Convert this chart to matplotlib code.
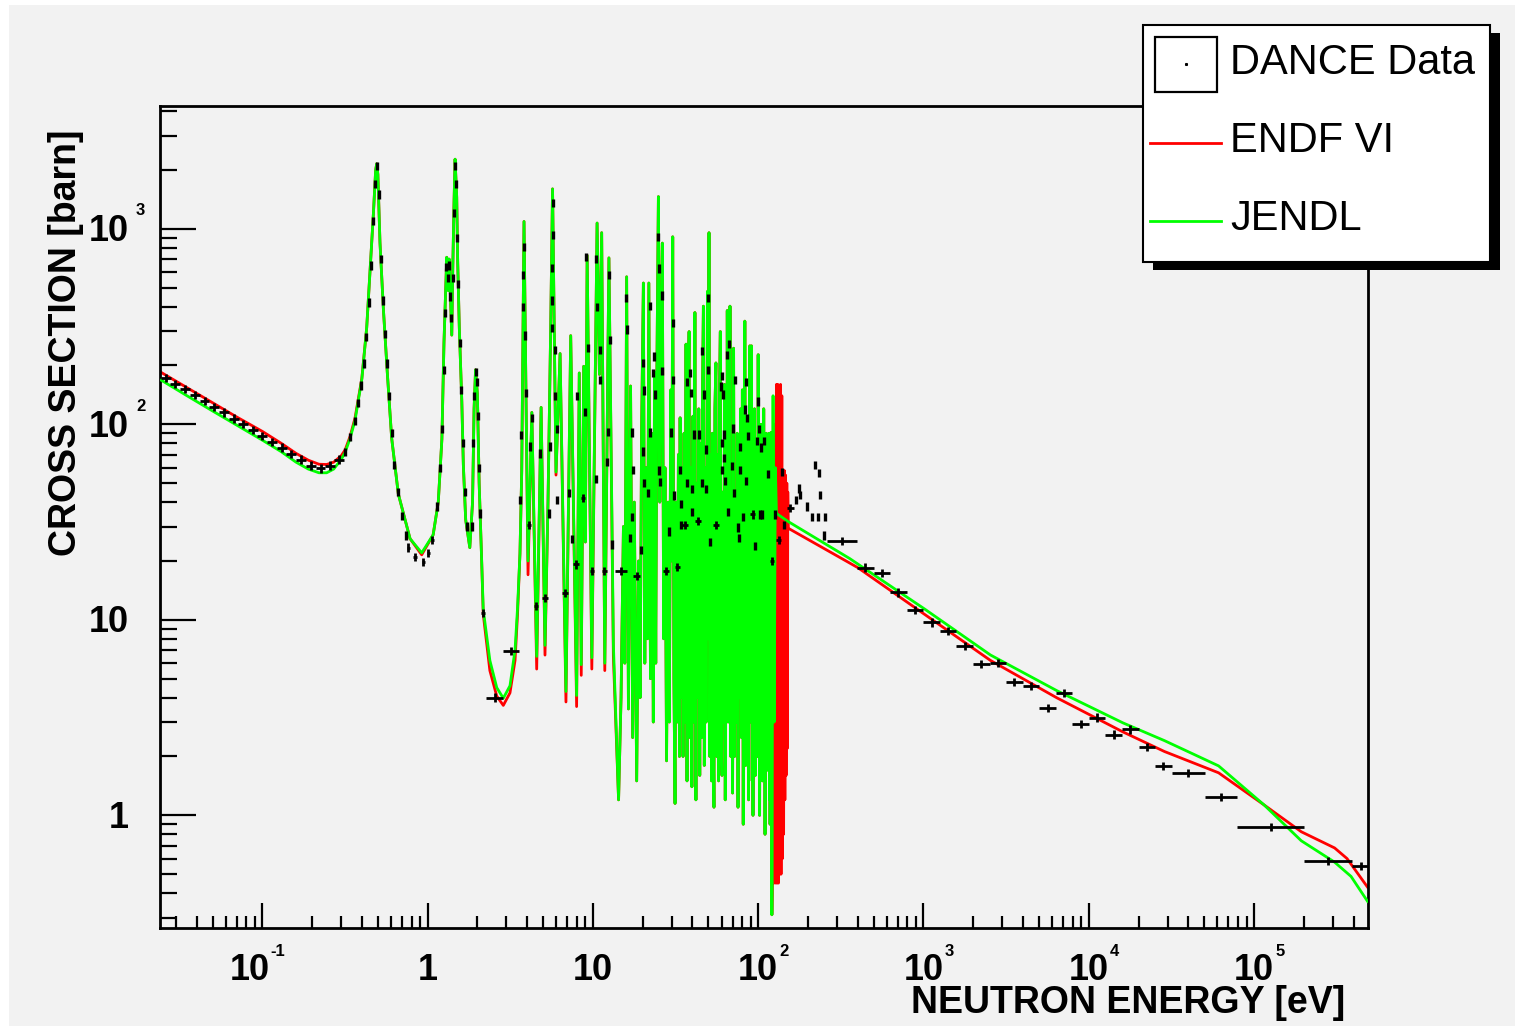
# -*- coding: utf-8 -*-
"""
Neutron capture cross section: DANCE data vs ENDF VI / JENDL evaluations
(ROOT-style log-log plot)
"""

import numpy as np
import matplotlib
matplotlib.use("Agg")
import matplotlib.pyplot as plt
import matplotlib.transforms as mtransforms
from matplotlib.patches import Rectangle
from matplotlib.ticker import LogLocator, NullFormatter

plt.rcParams["font.family"] = ["Liberation Sans", "DejaVu Sans"]

DPI = 100
PT = 72.0 / DPI          # points per pixel
BG = "#f2f2f2"

# ============================================================
# evaluated curves (energy in eV, cross section in barn)
# ============================================================
# thermal + first resonances, energies shared by both libraries
low_e = [0.0245, 0.035, 0.05, 0.07, 0.10, 0.13, 0.16, 0.19, 0.22, 0.245,
         0.27, 0.30, 0.317, 0.34, 0.364, 0.40, 0.428, 0.448, 0.47, 0.485,
         0.492, 0.50, 0.515, 0.54, 0.57, 0.606, 0.665, 0.783, 0.921, 1.08,
         1.16, 1.22, 1.256, 1.305, 1.335, 1.35, 1.40, 1.42, 1.445, 1.466,
         1.50, 1.52, 1.555, 1.61, 1.645, 1.70, 1.80, 1.87, 1.91, 1.95,
         2.00, 2.05, 2.12, 2.17, 2.38, 2.62, 2.87, 3.15, 3.38, 3.50,
         3.62, 3.71, 3.83, 3.94, 4.05, 4.27, 4.57, 4.86, 5.13, 5.35,
         5.55, 5.70, 5.85, 5.98, 6.33, 6.87, 7.34, 7.97, 8.27, 8.50,
         8.80, 9.00, 9.23, 9.85, 10.6, 10.95, 11.3, 11.8, 12.5, 13.3]
endf_low = [184, 154, 129, 109, 92, 80, 71, 65.5, 62.5, 62.3,
            64, 69, 74, 87, 108, 172, 312, 600, 1200, 2000,
            2150, 1900, 850, 389, 185, 85, 44, 26, 21.5, 27.2,
            40, 84, 262, 715, 483, 700, 286, 627, 1370, 2270,
            1450, 684, 312, 131, 62, 32.4, 23.4, 40, 120, 190,
            143, 50, 21, 10.7, 5.5, 4.07, 3.65, 4.23, 6.2, 10.7,
            21.8, 57.5, 1090, 133, 17, 115, 5.6, 122, 6.6, 40,
            300, 1600, 250, 55, 230, 3.8, 284, 3.6, 183, 5.2,
            198, 25, 731, 5.6, 1070, 180, 955, 5.5, 710, 6.5]
jendl_low = [168, 140, 117, 99, 83, 72.5, 64, 59, 56.5, 56.5,
             59, 66, 72, 85, 105, 170, 312, 600, 1200, 2000,
             2150, 1900, 850, 389, 185, 85, 44, 26, 22, 27.2,
             40, 84, 262, 715, 483, 700, 286, 627, 1370, 2270,
             1450, 684, 312, 131, 62, 32.4, 23.4, 40, 120, 190,
             143, 50, 21, 11.3, 6.2, 4.5, 3.97, 4.6, 7.0, 11.5,
             21.8, 57.5, 1090, 133, 20, 115, 6.5, 122, 7.4, 40,
             300, 1600, 250, 57, 230, 4.3, 284, 4.1, 183, 5.9,
             198, 25, 731, 6.4, 1070, 180, 955, 6.0, 710, 7.5]

# dense resonance region, drawn identically by both libraries
dense_e = [14.3, 14.8, 15.3, 15.6, 16.0, 16.4, 16.9, 17.4, 17.8, 18.4,
           18.9, 19.3, 19.7, 20.2, 20.6, 21.0, 21.4, 21.8, 22.3, 22.7,
           23.2, 23.6, 24.0, 24.4, 24.9, 25.4, 25.8, 26.3, 26.8, 27.3,
           27.9, 28.5, 29.0, 29.6, 30.0, 30.4, 30.9, 31.4, 31.9, 32.4,
           32.9, 33.4, 33.7, 34.2, 34.6, 35.1, 35.6, 36.1, 36.6, 37.1,
           37.6, 38.2, 38.7, 39.2, 39.7, 40.3, 40.8, 41.4, 42.0, 42.6,
           43.1, 43.7, 44.3, 44.9, 45.5, 46.0, 46.6, 47.2, 47.8, 48.4,
           49.3, 49.8, 50.4, 51.0, 51.6, 52.2, 52.8, 53.4, 54.0, 54.7,
           55.5, 56.2, 56.9, 57.6, 58.3, 59.0, 59.7, 60.4, 61.1, 61.8,
           62.5, 63.2, 64.0, 64.5, 65.0, 65.8, 66.6, 67.1, 67.5, 68.3,
           69.1, 70.0, 71.0, 71.9, 72.8, 73.7, 74.6, 75.5, 76.4, 77.3,
           78.3, 79.2, 80.2, 81.2, 82.1, 82.5, 83.0, 84.0, 85.0, 86.0,
           87.0, 87.5, 88.0, 88.5, 89.0, 90.0, 91.0, 92.0, 92.5, 93.0,
           94.0, 94.5, 95.0, 96.0, 97.0, 97.5, 98.0, 99.0, 100.0, 101.0,
           101.5, 102.0, 103.0, 103.5, 104.0, 105.0, 105.5, 106.0, 107.0, 107.5,
           108.0, 109.0, 109.5, 110.0, 111.0, 111.5, 112.0, 113.0, 114.0, 115.0,
           115.5, 116.0, 116.5, 117.0, 117.5, 118.0, 119.0, 119.5, 120.0, 121.0]
dense_xs = [1.2, 4, 30, 6, 568, 3.5, 157, 2.5, 40, 1.5,
            20, 4, 90, 528, 6, 60, 8, 528, 5, 90,
            3, 185, 6, 200, 1460, 40, 300, 845, 8, 60,
            1.9, 40, 3, 150, 20, 910, 5, 1.15, 40, 3,
            70, 2, 108, 4, 60, 2, 90, 3, 257, 1.5,
            120, 298, 2.5, 60, 1.4, 110, 3, 373, 1.2, 50,
            4, 120, 1.6, 80, 2.5, 140, 402, 1.8, 60, 3,
            478, 8, 955, 2, 70, 1.5, 90, 3, 1.1, 120,
            206, 2, 70, 1.5, 150, 298, 2.5, 1.6, 45, 3,
            160, 1.2, 35, 4, 382, 3, 40, 5, 402, 2,
            30, 1.3, 245, 2, 45, 3, 90, 1.1, 35, 4,
            120, 2.5, 150, 0.9, 40, 5, 337, 1.8, 110, 3,
            30, 1.2, 45, 5, 252, 3, 252, 1.5, 25, 1.0,
            50, 4, 120, 1.6, 40, 3, 80, 2, 227, 4,
            35, 1.0, 40, 3, 100, 2, 30, 1.5, 45, 3,
            120, 3, 35, 0.8, 60, 2.5, 90, 1.7, 40, 2.5,
            35, 1.8, 90, 1.2, 30, 0.9, 70, 2, 91, 0.31]

endf_tail_e = [121.5, 123, 124.5, 126, 127.5, 129, 130, 131.5, 132.5, 134,
               135, 136.5, 137.5, 139, 140, 141.5, 142.5, 144, 145, 146.5,
               147.5, 149, 150, 151, 152, 400, 1009, 2540, 6410, 16100,
               28700, 61000, 115000, 193000, 307000, 365000, 486000]
endf_tail_xs = [0.4, 60, 0.45, 100, 0.45, 160, 0.45, 160, 0.45, 150,
                0.5, 160, 0.5, 140, 0.6, 58, 0.8, 58, 1.2, 55,
                1.6, 50, 2.2, 45, 29.4, 18.5, 10.7, 6.2, 3.99, 2.67,
                2.12, 1.65, 1.13, 0.824, 0.681, 0.601, 0.429]

jendl_tail_e = [121.0, 123, 125, 127, 129, 152, 357, 1009, 2540, 6410,
                16100, 28700, 61000, 115000, 193000, 307000, 386000, 486000]
jendl_tail_xs = [0.31, 140, 3, 60, 35, 31.8, 20.6, 11.4, 6.61, 4.34,
                 2.97, 2.41, 1.79, 1.13, 0.741, 0.576, 0.487, 0.363]

# ============================================================
# DANCE data
# ============================================================
# thermal region, contiguous bins (~0.06 decade wide)
therm_e = [0.026, 0.0297, 0.034, 0.039, 0.0447, 0.051, 0.0585, 0.067, 0.0766, 0.0877,
           0.100, 0.115, 0.131, 0.150, 0.172, 0.197, 0.225, 0.258, 0.29]
therm_xs = [172, 161, 151, 141, 132, 123, 115, 107, 100, 93.5,
            87.5, 81.5, 76, 70.5, 66, 61.5, 59.5, 61.5, 66]

# fine bins through the resonances (appear as short vertical dashes)
fine_e = [0.317, 0.34, 0.364, 0.38, 0.395, 0.41, 0.425, 0.44, 0.455, 0.47,
          0.482, 0.492, 0.505, 0.52, 0.535, 0.55, 0.565, 0.585, 0.605, 0.63,
          0.66, 0.70, 0.745,
          1.14, 1.19, 1.225, 1.25, 1.275, 1.30, 1.32, 1.345, 1.37, 1.39,
          1.415, 1.44, 1.46, 1.485, 1.51, 1.535, 1.57, 1.60, 1.64, 1.68,
          1.73, 1.86, 1.89, 1.92, 1.95, 1.98, 2.01, 2.04, 2.08,
          3.62, 3.67, 3.76, 3.79, 3.83, 3.88, 3.94, 4.16, 4.27, 4.78,
          5.43, 5.5, 5.62, 5.66, 5.69, 5.72, 5.75, 5.9, 5.93, 6.08,
          6.1, 7.2, 7.52, 8.0, 8.96, 9.07, 9.37, 10.4, 10.5, 10.6,
          11.0, 11.1, 12.2, 12.4, 12.6, 12.7, 13.0,
          15.9, 16.1, 17.2, 17.5, 17.3, 16.7, 19.6, 20.2, 20.4, 20.0,
          20.5, 21.4, 22.0, 22.1, 23.2, 23.5, 23.7, 24.9, 25.0, 26.3,
          26.2, 25.1, 25.6, 29.0, 29.6, 30.4, 30.5, 30.9, 33.7, 34.2,
          33.9, 37.2, 38.6, 39.0, 37.3, 39.5, 39.7, 43.6, 41.1, 46.0,
          46.8, 49.4, 50.0, 48.0, 45.5, 48.3, 51.0, 60.1, 59.2, 60.0,
          61.0, 60.5, 62.0, 62.3, 63.0, 65.0, 67.0, 69.0, 70.0, 71.5,
          72.5, 65.5, 75.0, 77.0, 77.5, 78.0, 83.0, 84.0, 86.0, 86.5,
          84.5, 81.0, 95.0, 100, 99, 101, 103, 106, 104, 108,
          114, 126, 139, 143,
          170, 177, 180, 198, 213, 220, 232, 230, 237, 254, 249]
fine_xs = [72, 86, 104, 128, 158, 205, 280, 420, 650, 1100,
           1700, 2100, 1500, 700, 430, 290, 205, 140, 90, 62,
           45, 34, 27,
           38, 60, 95, 190, 370, 640, 560, 650, 450, 350,
           560, 1200, 2100, 1700, 900, 520, 260, 150, 80, 45,
           30, 30, 80, 140, 185, 165, 110, 60, 35,
           41, 88, 398, 580, 810, 285, 144, 77, 108, 71,
           35, 77, 310, 430, 630, 930, 1350, 240, 140, 95,
           41, 44.6, 25.8, 139, 116, 720, 245, 52.7, 700, 398,
           240, 169, 64, 91, 580, 270, 24.3,
           444, 305, 90.7, 58.3, 33.6, 26.3, 22.7, 206, 149, 72.6,
           50, 44.4, 402, 90.7, 183, 222, 142, 910, 627, 456,
           187, 58, 50.5, 28.3, 90.7, 330, 168, 43.3, 58.3, 39,
           30.6, 165, 183, 145, 50, 46.5, 35.5, 88.6, 88.6, 238,
           142, 190, 444, 74.4, 50.2, 46.5, 25, 58.3, 156, 177,
           142, 80, 88.6, 67.5, 51.4, 227, 257, 61, 95.2, 44.4,
           169, 35.5, 29.7, 26.3, 58.3, 76.3, 119, 165, 108, 86.8,
           51.4, 33.7, 23.8, 131, 82, 95, 34.6, 34.6, 76, 82,
           55.5, 34.6, 56.8, 30.6,
           41, 47, 43.6, 38, 33.7, 62, 56.3, 33.7, 43.6, 33.7, 27]

# wider bins: lower edge, upper edge, value
wide_lo = [0.75, 0.82, 0.92, 0.99, 1.05, 2.10, 2.25, 2.87, 4.0, 4.38,
           4.92, 6.5, 7.6, 8.45, 9.6, 11.3, 13.6, 17.5, 26.4, 31.2,
           34.7, 41.3, 53.3, 89.5, 118, 128, 149, 260, 396, 499,
           628, 791, 997, 1256, 1583, 1991, 2512, 3163, 3988, 5022,
           6320, 7960, 10020, 12600, 15880, 20000, 25170, 31700, 50200, 79300,
           200000, 391000]
wide_hi = [0.78, 0.86, 0.96, 1.03, 1.09, 2.21, 2.87, 3.55, 4.2, 4.63,
           5.35, 7.1, 8.25, 8.9, 10.2, 12.1, 16.0, 19.3, 28.7, 33.6,
           37.4, 44.8, 57.8, 96.0, 124, 138, 164, 396, 499, 628,
           791, 997, 1256, 1583, 1991, 2512, 3163, 3988, 5022, 6320,
           7960, 10020, 12600, 15880, 20000, 25170, 31700, 50200, 79300, 200000,
           391000, 500000]
wide_xs = [23.4, 21, 19.7, 21.9, 25.5, 10.8, 4.0, 6.9, 30.5, 11.8,
           12.9, 13.7, 19.2, 41.9, 17.7, 17.7, 17.7, 16.8, 17.7, 18.6,
           30.6, 32.1, 30.6, 34.6, 20, 25.7, 37.2, 25.3, 18.5, 17.3,
           13.8, 11.2, 9.7, 8.8, 7.35, 5.95, 6.0, 4.82, 4.57, 3.54,
           4.23, 2.94, 3.16, 2.59, 2.75, 2.23, 1.78, 1.65, 1.24, 0.87,
           0.583, 0.552]

x_decades = [-1, 0, 1, 2, 3, 4, 5]
y_decades = [0, 1, 2, 3]
legend_labels = ["DANCE Data", "ENDF VI", "JENDL"]

REL_ERR = 0.05          # vertical error bar size (relative)
THERM_HW = 0.03         # half-width of thermal bins in decades


def yerr_of(xs):
    xs = np.asarray(xs, float)
    return [xs - xs / (1 + REL_ERR), xs * REL_ERR]


# ============================================================
# figure
# ============================================================
fig = plt.figure(figsize=(15.15, 10.26), dpi=DPI, facecolor="white")
fig.add_artist(Rectangle((9 / 1515, 0), 1, 1021 / 1026, transform=fig.transFigure,
                         facecolor=BG, edgecolor="none", zorder=-5))

ax = fig.add_axes([160 / 1515, 98 / 1026, 1208 / 1515, 822 / 1026])
ax.set_facecolor(BG)
ax.set_xscale("log")
ax.set_yscale("log")
ax.set_xlim(0.02404, 4.89e5)
ax.set_ylim(0.2652, 4248)

endf_e = low_e + dense_e + endf_tail_e
endf_xs = endf_low + dense_xs + endf_tail_xs
jendl_e = low_e + dense_e + jendl_tail_e
jendl_xs = jendl_low + dense_xs + jendl_tail_xs

ax.plot(endf_e, endf_xs, color="#ff0000", lw=2.0, zorder=2)
ax.plot(jendl_e, jendl_xs, color="#00ff00", lw=2.0, zorder=3)

# DANCE points
te = np.asarray(therm_e)
ax.errorbar(te, therm_xs, xerr=[te - te / 10 ** THERM_HW, te * 10 ** THERM_HW - te],
            yerr=yerr_of(therm_xs), fmt="none", ecolor="black", elinewidth=2.0,
            capsize=0, zorder=5)
ax.errorbar(fine_e, fine_xs, yerr=yerr_of(fine_xs), fmt="none", ecolor="black",
            elinewidth=2.4, capsize=0, zorder=5)
lo = np.asarray(wide_lo)
hi = np.asarray(wide_hi)
cen = np.sqrt(lo * hi)
ax.errorbar(cen, wide_xs, xerr=[cen - lo, hi - cen], yerr=yerr_of(wide_xs),
            fmt="none", ecolor="black", elinewidth=2.0, capsize=0, zorder=5)

# ticks (ROOT style: inward, bottom/left only)
for axis in (ax.xaxis, ax.yaxis):
    axis.set_major_locator(LogLocator(base=10, numticks=30))
    axis.set_minor_locator(LogLocator(base=10, subs=np.arange(2, 10), numticks=30))
    axis.set_major_formatter(NullFormatter())
    axis.set_minor_formatter(NullFormatter())
ax.tick_params(which="both", direction="in", top=False, right=False,
               labelbottom=False, labelleft=False, width=1.6, color="black")
ax.tick_params(axis="x", which="major", length=25 * PT)
ax.tick_params(axis="x", which="minor", length=12 * PT)
ax.tick_params(axis="y", which="major", length=36 * PT)
ax.tick_params(axis="y", which="minor", length=17 * PT)
for sp in ax.spines.values():
    sp.set_linewidth(2.0)

# tick labels "10" with raised exponent
lab_kw = dict(fontsize=26, fontweight="bold", color="black", clip_on=False)
exp_kw = dict(fontsize=12, fontweight="bold", color="black", clip_on=False)
for k in x_decades:
    v = 10.0 ** k
    base = "1" if k == 0 else "10"
    shift = -12.5 if k < 0 else 0.0
    tr = mtransforms.offset_copy(ax.get_xaxis_transform(), fig=fig,
                                 x=shift * PT, y=-25 * PT, units="points")
    ax.text(v, 0, base, transform=tr, ha="center", va="top", **lab_kw)
    if k not in (0, 1):
        tr2 = mtransforms.offset_copy(ax.get_xaxis_transform(), fig=fig,
                                      x=(shift + 21) * PT, y=-16 * PT, units="points")
        ax.text(v, 0, str(k), transform=tr2, ha="left", va="top", **exp_kw)
for k in y_decades:
    v = 10.0 ** k
    base = "1" if k == 0 else "10"
    tr = mtransforms.offset_copy(ax.get_yaxis_transform(), fig=fig,
                                 x=-31 * PT, y=-3 * PT, units="points")
    ax.text(0, v, base, transform=tr, ha="right", va="center", **lab_kw)
    if k >= 2:
        tr2 = mtransforms.offset_copy(ax.get_yaxis_transform(), fig=fig,
                                      x=-24 * PT, y=18 * PT, units="points")
        ax.text(0, v, str(k), transform=tr2, ha="left", va="center", **exp_kw)

# ============================================================
# overlay in pixel coordinates: axis titles + legend
# ============================================================
lax = fig.add_axes([0, 0, 1, 1], zorder=10)
lax.set_xlim(0, 1515)
lax.set_ylim(1026, 0)
lax.axis("off")
lax.patch.set_alpha(0)

title_kw = dict(fontsize=27, fontweight="bold", color="black")
lax.text(1345, 985, "NEUTRON ENERGY [eV]", ha="right", va="top", **title_kw)
lax.text(66, 130, "CROSS SECTION [barn]", rotation=90, ha="center", va="top", **title_kw)

# legend box with shadow
lax.add_patch(Rectangle((1153, 33), 347, 237, facecolor="black", edgecolor="none"))
lax.add_patch(Rectangle((1143, 25), 347, 237, facecolor="white", edgecolor="black", lw=1.5))
lax.add_patch(Rectangle((1155, 37), 62, 55, facecolor="white", edgecolor="black", lw=1.6))
lax.plot([1186], [64], marker="s", ms=1.2, color="black")
lax.plot([1150, 1221], [142.7, 142.7], color="#ff0000", lw=2.0)
lax.plot([1150, 1221], [221, 221], color="#00ff00", lw=2.0)
for lab, yb in zip(legend_labels, [74, 151.7, 230]):
    lax.text(1230, yb, lab, ha="left", va="baseline", fontsize=30, color="black")

fig.savefig("out.png", dpi=DPI, facecolor=fig.get_facecolor())
